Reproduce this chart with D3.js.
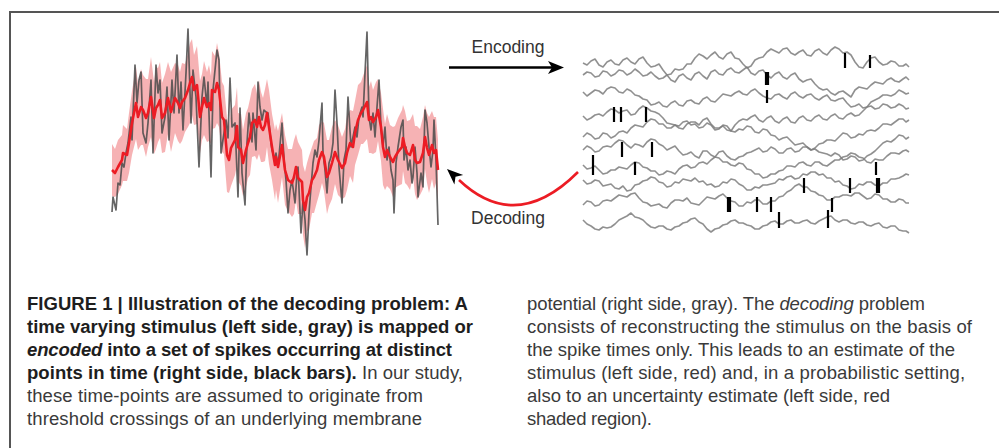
<!DOCTYPE html>
<html><head><meta charset="utf-8">
<script src="https://cdn.jsdelivr.net/npm/d3@7"></script>
<style>body{margin:0;background:#fff}svg{display:block}</style>
</head><body><svg id="c" width="999" height="448"></svg>
<script>
// ---- Left panel: stimulus (gray), estimate (red), uncertainty (band) ----
const stimT = [0,1,4,6,8,10,12,14,16,19,20,23,25,27,29,31,34,36,39,41,44,46,48,50,53,55,57,60,62,65,67,69,71,74,76,79,81,84,87,90,92,95,96,99,101,105,107,109,112,114,116,118,120,123,126,128,130,133,135,137,140,141,144,146,148,150,152,154,156,159,160,163,
164,166,170,172,174,176,178,180,183,185,186,189,191,193,195,197,199,201,203,205,207,210,211,213,215,217,219,221,223,225,227,230,232,234,236,239,241,243,245,247,250,251,253,255,257,259,261,263,265,267,269,271,273,275,277,279,281,282,284,286,289,291,292,294,296,298,300,301,303,305,306,309,311,313,315,317,319,321,322,324,326];
const stimV = [48,63,50,77,75,97,93,107,117,143,120,195,157,180,188,127,117,137,180,107,195,167,180,127,143,173,120,180,147,205,147,178,130,187,231,137,190,163,93,163,183,153,178,83,170,210,200,107,127,140,122,182,133,137,63,152,87,55,117,147,118,147,110,178,153,140,150,148,147,117,110,100,
107,93,137,100,80,47,70,80,57,87,93,27,60,40,5,47,73,97,110,103,120,157,107,90,67,97,103,117,170,137,93,57,100,110,163,113,123,133,123,143,153,143,187,228,143,130,147,123,153,180,133,113,133,100,113,90,80,47,97,113,133,140,100,113,90,100,77,83,113,87,63,87,73,150,137,113,93,110,140,100,35];

const estT = [0,3,6,10,11,15,17,20,24,26,29,31,34,36,39,42,44,46,48,50,53,56,59,63,66,68,70,73,76,78,80,82,85,88,90,92,95,97,99,100,103,105,107,110,112,115,117,119,123,125,126,129,131,134,136,138,140,143,145,147,149,151,153,155,157,160,163,
164,166,170,173,176,180,182,184,186,190,191,193,195,197,200,202,205,207,210,212,215,217,220,223,226,230,233,235,238,241,243,246,249,251,255,257,259,261,264,266,269,271,273,275,278,281,283,286,290,291,293,295,298,301,303,305,308,311,313,315,317,320,322,324,326];
const estV = [90,87,93,100,107,105,117,137,157,143,153,150,142,147,163,142,152,155,160,142,147,162,148,162,157,152,158,162,170,177,183,170,175,143,153,162,153,157,150,170,168,177,170,143,140,105,100,112,120,134,113,110,97,110,117,123,137,140,133,143,133,130,135,147,133,113,95,
103,93,115,90,80,77,83,93,82,78,60,50,63,67,80,83,90,100,108,103,83,87,97,108,100,92,97,107,117,113,127,140,147,150,158,140,143,138,143,150,133,113,103,110,103,98,103,108,113,122,113,107,105,115,100,97,98,107,123,112,105,115,107,110,90];
const estSD = [26,24,27,25,28,26,30,32,
36,33,38,35,39,34,40,36,41,37,38,35,39,36,40,35,38,36,39,34,37,40,38,35,39,36,33,37,35,38,34,39,36,40,37,35,
34,37,33,38,35,39,34,36,33,37,35,38,34,36,33,37,35,32,36,34,37,33,35,
33,36,32,35,31,34,37,33,36,32,35,38,34,37,33,36,32,35,31,34,37,33,36,32,35,31,34,37,33,36,32,35,31,34,37,33,36,32,35,31,34,38,33,36,32,35,31,34,37,33,36,32,35,31,34,37,33,36,32,35,38,34,36,33,30];

// ---- Right panel: membrane potential traces (samples + in-between samples) and spikes ----
const traceT = [0,8,16,24,32,40,48,56,64,72,80,88,96,104,112,120,128,136,144,152,160,168,176,184,192,200,208,216,224,232,240,248,256,264,272,280,288,296,304,312,320,326];
const traceMidT = [4,12,20,28,36,44,52,60,68,76,84,92,100,108,116,124,132,140,148,156,164,172,180,188,196,204,212,220,228,236,244,252,260,268,276,284,292,300,308,316,323];
const trace1 = [187,189,185,188,186,190,188,191,187,184,180,176,180,186,192,194,195,193,196,192,186,184,192,198,199,201,197,198,195,199,197,200,201,198,188,182,192,188,186,188,184,183];
const mid1   = [185,191,183,190,185,192,186,193,183,186,175,181,181,186,196,191,198,191,198,191,182,190,193,201,197,202,195,200,194,201,195,203,197,195,183,188,193,185,189,184,186];
const trace2 = [175,177,174,178,176,179,177,178,175,174,172,170,174,172,176,174,178,176,180,178,180,177,179,175,176,173,175,171,170,166,160,157,158,156,160,162,165,167,170,169,171,170];
const mid2   = [178,173,179,174,180,175,181,174,178,171,175,168,176,170,178,171,180,175,182,177,183,175,180,172,178,171,177,168,171,162,161,155,159,153,163,161,168,166,172,168,173];
const trace3 = [158,157,159,161,162,157,159,154,150,146,144,147,145,149,147,151,149,152,155,157,156,159,157,152,155,153,156,154,155,152,153,150,151,147,144,142,148,152,155,156,158,157];
const mid3   = [154,160,156,163,158,161,155,151,145,148,143,149,144,150,146,153,148,156,154,159,155,161,154,151,156,151,158,152,156,150,155,149,152,143,146,143,150,155,154,160,156];
const trace4 = [134,132,136,138,140,139,135,141,142,138,132,126,122,126,128,130,126,122,120,125,131,133,130,132,129,131,128,132,130,133,131,134,132,135,134,139,144,142,145,143,144,142];
const mid4   = [130,135,134,141,137,140,136,144,139,136,127,125,121,128,125,132,122,124,119,129,130,135,128,134,127,133,127,134,129,135,130,136,131,137,135,143,141,146,142,146,141];
const trace5 = [113,115,112,116,114,119,122,124,128,130,126,122,124,129,126,123,125,121,124,118,120,123,117,120,114,112,109,106,103,102,107,110,113,116,113,115,120,122,126,128,131,130];
const mid5   = [117,111,117,112,118,117,125,123,131,126,122,125,128,125,122,127,120,125,119,121,124,118,121,115,110,113,105,107,100,106,110,109,117,112,116,119,119,126,125,131,128];
const trace6 = [100,102,99,104,107,109,102,105,108,110,104,102,99,96,94,99,95,98,94,90,94,98,102,99,101,97,102,99,103,101,97,94,95,91,93,90,96,103,109,111,114,113];
const mid6   = [104,98,103,103,110,105,106,103,111,106,100,104,95,98,92,99,93,99,91,93,97,100,98,103,97,101,98,103,100,98,96,97,90,94,89,94,99,107,108,115,111];
const trace7 = [85,82,80,77,80,82,85,87,82,79,76,78,81,85,83,88,90,92,88,84,86,80,76,73,76,80,84,87,85,88,85,87,90,94,96,92,87,90,94,97,99,98];
const mid7   = [81,84,76,80,83,81,88,83,79,75,79,76,84,82,87,86,93,88,85,87,81,76,72,76,79,84,83,88,84,88,84,90,93,97,93,88,91,90,97,96,100];
const trace8 = [70,67,69,65,62,64,60,66,70,72,67,64,67,70,72,69,66,64,67,70,64,60,62,65,67,70,74,72,75,78,76,72,69,64,62,65,68,64,67,71,74,75];
const mid8   = [66,70,64,66,61,59,65,69,73,68,63,68,71,69,68,65,63,68,71,66,60,63,65,66,71,73,71,76,78,75,72,68,65,61,66,68,65,67,71,72,76];
const trace9 = [45,48,45,50,52,54,56,52,47,45,43,47,50,52,46,49,52,54,52,48,44,47,50,46,49,54,60,66,63,58,54,50,53,55,57,54,52,55,51,48,50,47];
const mid9   = [49,44,49,49,55,53,57,48,44,46,42,50,49,47,45,53,51,56,49,44,48,50,46,49,53,58,64,63,59,55,50,53,55,54,57,51,56,51,48,51,47];
const trace10 = [30,24,20,22,26,32,37,32,26,22,24,20,24,28,32,26,18,22,26,30,27,24,21,25,29,26,30,27,30,26,31,34,28,30,26,28,24,27,22,24,19,17];
const mid10   = [26,21,23,23,30,34,33,30,23,24,21,23,27,31,28,21,21,25,29,27,25,21,24,28,26,29,27,29,27,29,33,30,30,27,28,25,26,23,24,20,19];
const traces = [trace1,trace2,trace3,trace4,trace5,trace6,trace7,trace8,trace9,trace10];
const mids = [mid1,mid2,mid3,mid4,mid5,mid6,mid7,mid8,mid9,mid10];

const spikeT  = [262,287,183,185,184,31,38,63,39,69,10,52,293,221,267,294,296,145,147,174,188,249,196,245];
const spikeHi = [197,195,178,178,160,143,143,143,108,108,95,88,88,72,72,72,72,53,53,53,53,52,38,40];
const spikeLo = [182,182,165,165,147,128,128,128,93,93,75,75,75,57,57,57,57,38,38,38,38,38,22,22];

// ---- Labels ----
const arrowLabels = ["Encoding","Decoding"];
const capLeft = [
  [["FIGURE 1 | Illustration of the decoding problem: A","b"]],
  [["time varying stimulus (left side, gray) is mapped or","b"]],
  [["encoded","bi"],[" into a set of spikes occurring at distinct","b"]],
  [["points in time (right side, black bars).","b"],[" In our study,","r"]],
  [["these time-points are assumed to originate from","r"]],
  [["threshold crossings of an underlying membrane","r"]]
];
const capRight = [
  [["potential (right side, gray). The ","r"],["decoding","i"],[" problem","r"]],
  [["consists of reconstructing the stimulus on the basis of","r"]],
  [["the spike times only. This leads to an estimate of the","r"]],
  [["stimulus (left side, red) and, in a probabilistic setting,","r"]],
  [["also to an uncertainty estimate (left side, red","r"]],
  [["shaded region).","r"]]
];
const capLeftW = [441,446,425,436,396,395];
const capRightW = [398,445,428,438,363,125];

// =====================================================================
const svg = d3.select("#c");
const FONT = "'Liberation Sans', Arial, Helvetica, sans-serif";

// frame
svg.append("path").attr("d","M10,449 L10,12 L999,12")
  .attr("fill","none").attr("stroke","#555").attr("stroke-width",2);

// left panel
const xL = d3.scaleLinear().domain([0,326]).range([112,438]);
const yL = d3.scaleLinear().domain([0,240]).range([260,20]);
const est = estT.map((t,i)=>({t, v:estV[i], sd:estSD[i]}));
const stim = stimT.map((t,i)=>({t, v:stimV[i]}));

svg.append("path").datum(est)
  .attr("d", d3.area().x(d=>xL(d.t)).y0(d=>yL(d.v-d.sd)).y1(d=>yL(d.v+d.sd)))
  .attr("fill","#f4a4a7").attr("opacity",0.85);
svg.append("path").datum(stim)
  .attr("d", d3.line().x(d=>xL(d.t)).y(d=>yL(d.v)))
  .attr("fill","none").attr("stroke","#4a4a4a").attr("stroke-width",1.7)
  .attr("stroke-opacity",0.85).attr("stroke-linejoin","round");
svg.append("path").datum(est)
  .attr("d", d3.line().x(d=>xL(d.t)).y(d=>yL(d.v)))
  .attr("fill","none").attr("stroke","#ec1c24").attr("stroke-width",2.6)
  .attr("stroke-linejoin","round");

// right panel
const xR = d3.scaleLinear().domain([0,326]).range([583,909]);
const yR = d3.scaleLinear().domain([0,210]).range([250,40]);
const traceData = traces.map((tr,k)=>{
  const pts=[];
  tr.forEach((v,i)=>{ pts.push([traceT[i],v]); if(i<mids[k].length) pts.push([traceMidT[i],mids[k][i]]); });
  return pts;
});
svg.append("g").selectAll("path").data(traceData).join("path")
  .attr("d", d3.line().x(d=>xR(d[0])).y(d=>yR(d[1])))
  .attr("fill","none").attr("stroke","#7c7c7c")
  .attr("stroke-width",1.6).attr("stroke-opacity",0.85).attr("stroke-linejoin","round");
svg.append("g").selectAll("line").data(spikeT).join("line")
  .attr("x1",d=>xR(d)).attr("x2",d=>xR(d))
  .attr("y1",(d,i)=>yR(spikeHi[i])).attr("y2",(d,i)=>yR(spikeLo[i]))
  .attr("stroke","#000").attr("stroke-width",2.2);

// encoding arrow
svg.append("line").attr("x1",449).attr("x2",553).attr("y1",67.5).attr("y2",67.5)
  .attr("stroke","#000").attr("stroke-width",2.6);
svg.append("path").attr("d","M564,67.5 L548,61 L552,67.5 L548,74 Z").attr("fill","#000");
svg.append("text").attr("x",508).attr("y",52.5).attr("text-anchor","middle")
  .attr("font-family",FONT).attr("font-size",17.5).attr("fill","#333").text(arrowLabels[0]);

// decoding arrow
const p0=[578,172], p1=[516,234], p2=[459,180];
svg.append("path").attr("d",`M${p0} Q${p1} ${p2}`).attr("fill","none")
  .attr("stroke","#ec1c24").attr("stroke-width",2.6);
{
  const tip=[447,169];
  const dx=tip[0]-p2[0], dy=tip[1]-p2[1], L=Math.hypot(dx,dy);
  const ux=dx/L, uy=dy/L, nx=-uy, ny=ux, len=16, w=6.5;
  const b=[tip[0]-len*ux, tip[1]-len*uy], m=[tip[0]-0.72*len*ux, tip[1]-0.72*len*uy];
  svg.append("path").attr("d",`M${tip} L${b[0]+w*nx},${b[1]+w*ny} L${m} L${b[0]-w*nx},${b[1]-w*ny} Z`).attr("fill","#000");
}
svg.append("text").attr("x",508).attr("y",224).attr("text-anchor","middle")
  .attr("font-family",FONT).attr("font-size",17.5).attr("fill","#333").text(arrowLabels[1]);

// caption
const baselines = [310,333,356,379,402,425];
function caption(lines, x0, widths){
  const els = lines.map((segs,li)=>{
    const t = svg.append("text").attr("x",x0).attr("y",baselines[li])
      .attr("font-family",FONT).attr("font-size",16);
    segs.forEach(([s,st])=>{
      const ts=t.append("tspan").text(s);
      if(st.includes("b")) ts.attr("font-weight","bold").attr("fill","#1e1e1e");
      else ts.attr("fill","#3a3a3a");
      if(st.includes("i")) ts.attr("font-style","italic");
    });
    return t;
  });
  const ratios = els.slice(0,5).map((t,li)=>widths[li]/t.node().getComputedTextLength()).sort((a,b)=>a-b);
  const fs = 16*ratios[2];
  els.forEach((t,li)=>{
    t.attr("font-size",fs.toFixed(2));
    const n = lines[li].map(s=>s[0]).join("").length;
    const nat = t.node().getComputedTextLength();
    t.attr("letter-spacing", ((widths[li]-nat)/(n-1)).toFixed(3));
  });
}
caption(capLeft, 27, capLeftW);
caption(capRight, 527, capRightW);
</script></body></html>
